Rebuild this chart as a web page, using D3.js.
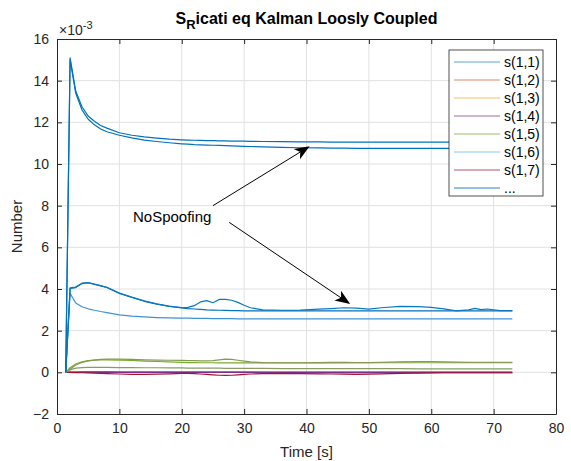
<!DOCTYPE html>
<html>
<head>
<meta charset="utf-8">
<script src="https://cdn.jsdelivr.net/npm/d3@7"></script>
<style>
  body { margin: 0; background: #fff; }
  svg { display: block; font-family: "Liberation Sans", Arial, sans-serif; }
</style>
</head>
<body>
<svg width="571" height="461"></svg>
<script>
// time axis shared by every series (seconds)
var time = [1.4, 2.1, 3, 4, 5, 6, 7, 8, 10, 12, 14, 16, 18, 20,
  21, 22, 23, 24, 25, 26, 27, 28, 29, 30, 31,
  33, 36, 39, 42, 44, 46, 48, 50, 52, 55, 58, 60, 62, 64, 66, 67, 68, 69, 70, 71, 73];

// values in units of 1e-3
var sTopUpper = [0, 15.1, 13.5, 12.75, 12.3, 12.05, 11.85, 11.72, 11.5, 11.38, 11.3, 11.24, 11.19, 11.16,
  11.15, 11.14, 11.13, 11.12, 11.12, 11.11, 11.11, 11.1, 11.1, 11.1, 11.09,
  11.08, 11.07, 11.06, 11.06, 11.05, 11.05, 11.05, 11.05, 11.05, 11.05, 11.05, 11.05, 11.05, 11.05, 11.05, 11.05, 11.05, 11.05, 11.05, 11.05, 11.05];
var sTopLower = [0, 15.0, 13.4, 12.6, 12.15, 11.88, 11.68, 11.55, 11.38, 11.25, 11.15, 11.08, 11.02, 10.97,
  10.95, 10.93, 10.92, 10.91, 10.9, 10.89, 10.88, 10.87, 10.86, 10.85, 10.84,
  10.82, 10.8, 10.78, 10.77, 10.76, 10.76, 10.75, 10.75, 10.75, 10.75, 10.75, 10.75, 10.75, 10.75, 10.75, 10.75, 10.75, 10.75, 10.75, 10.75, 10.75];
var sMidBumpy = [0, 4.05, 4.09, 4.28, 4.31, 4.24, 4.16, 4.08, 3.81, 3.61, 3.43, 3.29, 3.18, 3.11,
  3.12, 3.2, 3.38, 3.44, 3.34, 3.5, 3.5, 3.46, 3.36, 3.22, 3.1,
  3.0, 2.98, 2.99, 3.03, 3.06, 3.1, 3.08, 3.03, 3.1, 3.17, 3.15, 3.12, 3.05, 2.95, 3.0, 3.07, 3.01, 3.04, 3.0, 2.96, 2.96];
var sMidSmooth = [0, 4.03, 4.07, 4.26, 4.3, 4.22, 4.15, 4.07, 3.79, 3.59, 3.41, 3.27, 3.16, 3.09,
  3.06, 3.04, 3.02, 3.0, 2.99, 2.98, 2.97, 2.96, 2.96, 2.95, 2.95,
  2.95, 2.95, 2.95, 2.95, 2.95, 2.95, 2.95, 2.95, 2.95, 2.95, 2.95, 2.95, 2.95, 2.95, 2.95, 2.95, 2.95, 2.95, 2.95, 2.95, 2.95];
var sMidLow = [0, 3.79, 3.33, 3.15, 3.05, 2.98, 2.92, 2.87, 2.76, 2.7, 2.66, 2.63, 2.61, 2.6,
  2.6, 2.59, 2.59, 2.59, 2.58, 2.58, 2.58, 2.58, 2.57, 2.57, 2.57,
  2.57, 2.57, 2.57, 2.57, 2.57, 2.57, 2.57, 2.57, 2.57, 2.57, 2.57, 2.57, 2.57, 2.57, 2.57, 2.57, 2.57, 2.57, 2.57, 2.57, 2.57];
var sOlive = [0, 0.15, 0.35, 0.47, 0.55, 0.59, 0.62, 0.63, 0.63, 0.62, 0.6, 0.59, 0.58, 0.57,
  0.56, 0.56, 0.55, 0.55, 0.56, 0.6, 0.63, 0.62, 0.58, 0.54, 0.5,
  0.47, 0.46, 0.46, 0.47, 0.48, 0.48, 0.47, 0.47, 0.48, 0.5, 0.52, 0.52, 0.5, 0.49, 0.48, 0.48, 0.48, 0.48, 0.48, 0.48, 0.48];
var sGreen = [0, 0.22, 0.4, 0.5, 0.56, 0.59, 0.6, 0.6, 0.59, 0.57, 0.54, 0.52, 0.5, 0.48,
  0.47, 0.47, 0.46, 0.46, 0.46, 0.45, 0.45, 0.45, 0.45, 0.45, 0.45,
  0.45, 0.45, 0.45, 0.45, 0.45, 0.45, 0.46, 0.46, 0.46, 0.46, 0.46, 0.46, 0.46, 0.46, 0.46, 0.46, 0.46, 0.46, 0.46, 0.46, 0.46];
var sGreenLow = [0, 0.12, 0.2, 0.23, 0.24, 0.24, 0.24, 0.24, 0.23, 0.23, 0.22, 0.22, 0.21, 0.21,
  0.2, 0.2, 0.2, 0.2, 0.2, 0.2, 0.19, 0.19, 0.19, 0.19, 0.19,
  0.19, 0.18, 0.18, 0.18, 0.18, 0.18, 0.18, 0.18, 0.18, 0.18, 0.17, 0.17, 0.17, 0.17, 0.17, 0.17, 0.17, 0.17, 0.17, 0.17, 0.17];
var sRed = [0, 0, -0.01, -0.02, -0.03, -0.04, -0.05, -0.06, -0.08, -0.1, -0.1, -0.09, -0.07, -0.05,
  -0.05, -0.06, -0.08, -0.1, -0.12, -0.14, -0.15, -0.14, -0.12, -0.1, -0.08,
  -0.06, -0.05, -0.06, -0.07, -0.08, -0.09, -0.1, -0.09, -0.07, -0.05, -0.04, -0.03, -0.02, -0.02, -0.02, -0.02, -0.02, -0.02, -0.02, -0.02, -0.02];
var sPurple = [0, 0, 0, 0, 0, 0, 0, 0, 0, 0, 0, 0, 0, 0,
  0, 0, 0, 0, 0, 0, 0, 0, 0, 0, 0,
  -0.01, -0.01, -0.01, -0.01, -0.01, -0.01, -0.01, -0.01, -0.01, -0.01, -0.01, -0.01, -0.01, -0.01, -0.01, -0.01, -0.01, -0.01, -0.01, -0.01, -0.01];
var sOrange = [0, 0.02, 0.02, 0.03, 0.03, 0.03, 0.03, 0.03, 0.02, 0.02, 0.02, 0.02, 0.02, 0.02,
  0.02, 0.02, 0.02, 0.02, 0.02, 0.02, 0.02, 0.02, 0.02, 0.02, 0.02,
  0.02, 0.02, 0.02, 0.02, 0.02, 0.02, 0.02, 0.02, 0.02, 0.02, 0.02, 0.02, 0.02, 0.02, 0.02, 0.02, 0.02, 0.02, 0.02, 0.02, 0.02];

var seriesList = [sOrange, sPurple, sRed, sGreenLow, sGreen, sOlive, sMidLow, sMidSmooth, sMidBumpy, sTopLower, sTopUpper];
var seriesColors = ["#D95319", "#7E2F8E", "#A2142F", "#8a9a62", "#77AC30", "#869a52", "#3f93d3", "#0072BD", "#0a78c0", "#0072BD", "#0072BD"];

var legendLabels = ["s(1,1)", "s(1,2)", "s(1,3)", "s(1,4)", "s(1,5)", "s(1,6)", "s(1,7)", "..."];
var legendColors = ["#5aa3d8", "#e08a66", "#efc46a", "#9c6aa8", "#98bf68", "#80d0f0", "#b75468", "#2a82c4"];

var xTicks = [0, 10, 20, 30, 40, 50, 60, 70, 80];
var yTicks = [-2, 0, 2, 4, 6, 8, 10, 12, 14, 16];

// annotation arrows: [fromX, fromY, toX, toY] in data units
var arrows = [[25.0, 8.0, 40.5, 10.85], [27.6, 7.2, 47.0, 3.28]];
var noteText = "NoSpoofing";

var margin = { top: 39, right: 15, bottom: 47, left: 57 };
var svg = d3.select("svg");
var width = 571 - margin.left - margin.right;
var height = 461 - margin.top - margin.bottom;
var ink = "#262626";

var x = d3.scaleLinear().domain([0, 80]).range([margin.left, margin.left + width]);
var y = d3.scaleLinear().domain([-2, 16]).range([margin.top + height, margin.top]);

// grid
svg.append("g").selectAll("line").data(xTicks.slice(1, -1)).enter().append("line")
  .attr("x1", function(d) { return x(d); }).attr("x2", function(d) { return x(d); })
  .attr("y1", y(-2)).attr("y2", y(16))
  .attr("stroke", "#e1e1e1").attr("stroke-width", 1);
svg.append("g").selectAll("line").data(yTicks.slice(1, -1)).enter().append("line")
  .attr("x1", x(0)).attr("x2", x(80))
  .attr("y1", function(d) { return y(d); }).attr("y2", function(d) { return y(d); })
  .attr("stroke", "#e1e1e1").attr("stroke-width", 1);

// series
var line = d3.line()
  .x(function(d, i) { return x(time[i]); })
  .y(function(d) { return y(d); });
svg.append("g").selectAll("path").data(seriesList).enter().append("path")
  .attr("fill", "none")
  .attr("stroke", function(d, i) { return seriesColors[i]; })
  .attr("stroke-width", 1.2)
  .attr("stroke-linejoin", "round")
  .attr("d", line);

// axes (ticks inward on all four sides)
var bottomAxis = d3.axisBottom(x).tickValues(xTicks).tickSizeInner(-5).tickSizeOuter(0).tickPadding(9);
var leftAxis = d3.axisLeft(y).tickValues(yTicks).tickSizeInner(-5).tickSizeOuter(0).tickPadding(8);
var gx = svg.append("g").attr("transform", "translate(0," + y(-2) + ")").call(bottomAxis);
var gy = svg.append("g").attr("transform", "translate(" + x(0) + ",0)").call(leftAxis);
svg.append("g").attr("transform", "translate(0," + y(16) + ")")
  .call(d3.axisTop(x).tickValues(xTicks).tickSizeInner(-5).tickSizeOuter(0).tickFormat(""));
svg.append("g").attr("transform", "translate(" + x(80) + ",0)")
  .call(d3.axisRight(y).tickValues(yTicks).tickSizeInner(-5).tickSizeOuter(0).tickFormat(""));
svg.selectAll(".domain").attr("stroke", ink);
svg.selectAll(".tick line").attr("stroke", ink);
svg.selectAll(".tick text").attr("fill", ink).style("font-size", "14px")
  .style("font-family", "'Liberation Sans', Arial, sans-serif");

// exponent label
var expo = svg.append("text").attr("x", x(0) + 2).attr("y", 35).attr("fill", ink).style("font-size", "14px");
expo.append("tspan").text("\u00d710");
expo.append("tspan").attr("dy", -6).style("font-size", "11px").text("-3");

// title
var title = svg.append("text").attr("x", x(40)).attr("y", 24).attr("text-anchor", "middle")
  .attr("fill", "#000").style("font-size", "16px").style("font-weight", "bold");
title.append("tspan").text("S");
title.append("tspan").attr("dy", 5).style("font-size", "13px").text("R");
title.append("tspan").attr("dy", -5).text("icati eq Kalman Loosly Coupled");

// axis labels
svg.append("text").attr("x", x(40)).attr("y", 457).attr("text-anchor", "middle")
  .attr("fill", ink).style("font-size", "15px").text("Time [s]");
svg.append("text").attr("transform", "translate(22," + y(7) + ") rotate(-90)")
  .attr("text-anchor", "middle").attr("fill", ink).style("font-size", "15px").text("Number");

// annotation
svg.append("text").attr("x", 133).attr("y", 222).attr("fill", "#000")
  .style("font-size", "15px").text(noteText);
arrows.forEach(function(a) {
  var x1 = x(a[0]), y1 = y(a[1]), x2 = x(a[2]), y2 = y(a[3]);
  var ang = Math.atan2(y2 - y1, x2 - x1);
  var len = 15, half = 6, notch = 11;
  svg.append("line").attr("x1", x1).attr("y1", y1)
    .attr("x2", x2 - notch * Math.cos(ang)).attr("y2", y2 - notch * Math.sin(ang))
    .attr("stroke", "#000").attr("stroke-width", 1);
  var bx = x2 - len * Math.cos(ang), by = y2 - len * Math.sin(ang);
  var nx = x2 - notch * Math.cos(ang), ny = y2 - notch * Math.sin(ang);
  var px = -Math.sin(ang) * half, py = Math.cos(ang) * half;
  svg.append("path")
    .attr("d", "M" + x2 + "," + y2 + "L" + (bx + px) + "," + (by + py) + "L" + nx + "," + ny +
      "L" + (bx - px) + "," + (by - py) + "Z")
    .attr("fill", "#000");
});

// legend
var lg = svg.append("g").attr("transform", "translate(449,50)");
lg.append("rect").attr("width", 94).attr("height", 146)
  .attr("fill", "#fff").attr("stroke", "#262626").attr("stroke-width", 0.8);
var items = lg.selectAll("g.item").data(legendLabels).enter().append("g")
  .attr("transform", function(d, i) { return "translate(0," + (12 + i * 18) + ")"; });
items.append("line").attr("x1", 5).attr("x2", 51).attr("y1", 0).attr("y2", 0)
  .attr("stroke", function(d, i) { return legendColors[i]; }).attr("stroke-width", 1.2);
items.append("text").attr("x", 55).attr("y", 5).attr("fill", "#000")
  .style("font-size", "14px").text(function(d) { return d; });
</script>
</body>
</html>
